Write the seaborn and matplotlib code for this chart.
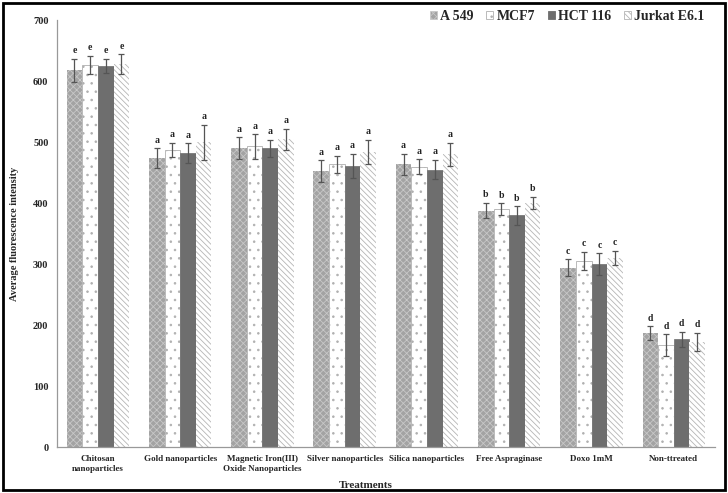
import numpy as np
import pandas as pd
import matplotlib
matplotlib.use("Agg")
import matplotlib.pyplot as plt
import seaborn as sns
from matplotlib.patches import Rectangle, Patch

categories = ["Chitosan\nnanoparticles", "Gold nanoparticles",
              "Magnetic Iron(III)\nOxide Nanoparticles", "Silver nanoparticles",
              "Silica nanoparticles", "Free Aspraginase", "Doxo 1mM", "Non-ttreated"]
cell_lines = ["A 549", "MCF7", "HCT 116", "Jurkat E6.1"]

a549 = [618, 474, 490, 452, 464, 388, 294, 187]
mcf7 = [627, 487, 493, 464, 460, 390, 305, 167]
hct116 = [625, 482, 490, 461, 455, 380, 300, 177]
jurkat = [628, 500, 505, 484, 480, 400, 310, 172]

a549_err = [19, 16, 18, 18, 17, 13, 14, 11]
mcf7_err = [15, 12, 20, 14, 12, 10, 15, 18]
hct116_err = [12, 16, 14, 20, 16, 15, 18, 12]
jurkat_err = [16, 29, 17, 20, 19, 10, 12, 15]

letters = ["e", "a", "a", "a", "a", "b", "c", "d"]
yticks = [0, 100, 200, 300, 400, 500, 600, 700]

values = [a549, mcf7, hct116, jurkat]
errors = [a549_err, mcf7_err, hct116_err, jurkat_err]

rows = []
for line, vals in zip(cell_lines, values):
    for cat, v in zip(categories, vals):
        rows.append({"Treatment": cat, "Cell line": line, "Value": v})
df = pd.DataFrame(rows)

sns.set_style("white")
plt.rcParams["font.family"] = ["Liberation Serif", "DejaVu Serif"]
plt.rcParams["hatch.linewidth"] = 0.6

fig = plt.figure(figsize=(7.28, 4.93), dpi=100)
ax = fig.add_axes([0.078, 0.093, 0.904, 0.866])

styles = [
    dict(facecolor="#a3a3a3", hatch="xxxxx", edgecolor="#c8c8c8"),
    dict(facecolor="#ffffff", hatch="..", edgecolor="#b0b0b0"),
    dict(facecolor="#6e6e6e", hatch=None, edgecolor="#6e6e6e"),
    dict(facecolor="#ffffff", hatch="\\\\\\\\\\\\", edgecolor="#b5b5b5"),
]

sns.barplot(data=df, x="Treatment", y="Value", hue="Cell line",
            order=categories, hue_order=cell_lines, errorbar=None,
            width=0.76, ax=ax, legend=False)

bar_containers = list(ax.containers)
for ci, cont in enumerate(bar_containers):
    st = styles[ci]
    for j, bar in enumerate(cont):
        bar.set_facecolor(st["facecolor"])
        bar.set_edgecolor(st["edgecolor"])
        bar.set_linewidth(0.0 if st["hatch"] else 0.5)
        if st["hatch"]:
            bar.set_hatch(st["hatch"])
        if ci == 1:
            bar.set_linewidth(0.6)
        x = bar.get_x() + bar.get_width() / 2
        h = bar.get_height()
        e = errors[ci][j]
        ax.errorbar(x, h, yerr=e, color="#555555", capsize=2.5, elinewidth=0.9,
                    capthick=0.9, fmt="none", zorder=5)
        ax.text(x, h + e + 6, letters[j], ha="center", va="bottom",
                fontsize=7, fontweight="bold", color="#222222")

ax.set_ylim(0, 700)
ax.set_xlim(-0.5, len(categories) - 0.5)
ax.set_yticks(yticks)
ax.set_yticklabels([str(t) for t in yticks], fontsize=7.5, fontweight="bold")
ax.tick_params(axis="y", length=0, pad=6)
ax.set_xticks(range(len(categories)))
ax.set_xticklabels(categories, fontsize=6.5, fontweight="bold")
ax.tick_params(axis="x", length=0, pad=6)
ax.set_xticks(np.arange(-0.5, len(categories), 1.0), minor=True)
ax.tick_params(axis="x", which="minor", length=3, color="#999999")

for s in ["top", "right"]:
    ax.spines[s].set_visible(False)
for s in ["left", "bottom"]:
    ax.spines[s].set_color("#999999")
    ax.spines[s].set_linewidth(0.9)

ax.set_ylabel("Average fluorescence intensity", fontsize=7.5, fontweight="bold")
ax.yaxis.set_label_coords(-0.058, 0.5)
ax.set_xlabel("Treatments", fontsize=8, fontweight="bold")
ax.xaxis.set_label_coords(0.47, -0.08)

handles = [Patch(facecolor=st["facecolor"], edgecolor=st["edgecolor"],
                 hatch=st["hatch"], linewidth=0.6) for st in styles]
fig.legend(handles, cell_lines, loc="upper right", bbox_to_anchor=(0.985, 1.005),
           ncol=4, frameon=False, prop={"family": "Liberation Serif", "weight": "bold", "size": 10},
           handlelength=0.5, handleheight=0.5, handletextpad=0.25, columnspacing=0.9)

fig.patches.append(Rectangle((0.004, 0.006), 0.992, 0.988, transform=fig.transFigure,
                             fill=False, edgecolor="black", linewidth=2))

fig.savefig("out.png", dpi=100)
